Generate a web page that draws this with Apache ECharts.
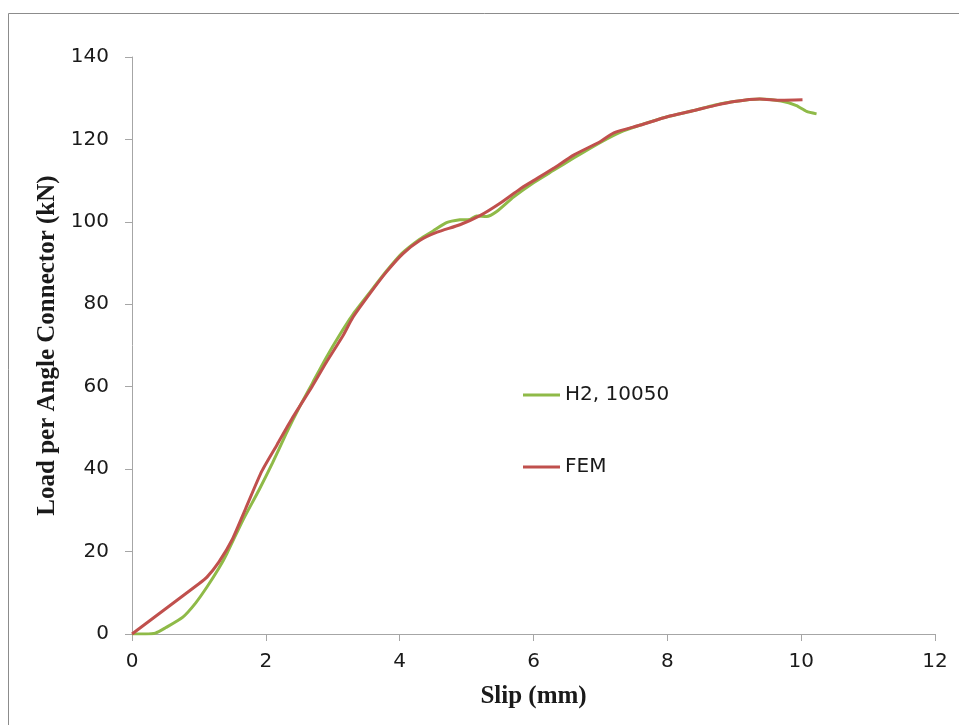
<!DOCTYPE html>
<html>
<head>
<meta charset="utf-8">
<script src="https://cdn.jsdelivr.net/npm/echarts@6/dist/echarts.min.js"></script>
<style>
html,body{margin:0;padding:0;background:#fff;}
#chart{width:959px;height:725px;}
</style>
</head>
<body>
<div id="chart"></div>
<script>
// Data
const h2Slip = [0, 0.2, 0.35, 0.5, 0.76, 0.95, 1.12, 1.3, 1.42, 1.66, 1.9, 2.1, 2.3, 2.5, 2.7, 2.9, 3.1, 3.3, 3.56, 3.8, 4.03, 4.3, 4.5, 4.7, 4.9, 5.05, 5.15, 5.3, 5.45, 5.7, 6.0, 6.3, 6.6, 7.0, 7.3, 7.6, 8.0, 8.4, 8.7, 9.0, 9.38, 9.7, 9.93, 10.08, 10.23];
const h2Load = [0, 0, 0.2, 1.5, 4.1, 7.5, 11.4, 16, 19.6, 27.7, 35, 41.5, 48.5, 55, 61, 67, 72.5, 77.5, 83, 88, 92.3, 95.8, 97.8, 99.8, 100.5, 100.6, 101.4, 101.3, 102.5, 106, 109.5, 112.5, 115.5, 119.3, 121.8, 123.5, 125.5, 127, 128.3, 129.2, 129.8, 129.3, 128.2, 126.8, 126.2];
const femSlip = [0, 1.0, 1.12, 1.3, 1.5, 1.7, 1.94, 2.17, 2.4, 2.69, 2.9, 3.15, 3.3, 3.56, 3.8, 4.05, 4.3, 4.56, 4.9, 5.2, 5.5, 5.8, 6.0, 6.3, 6.6, 7.0, 7.2, 7.6, 8.0, 8.4, 8.7, 9.0, 9.38, 9.7, 10.02];
const femLoad = [0, 12.2, 13.8, 17.5, 23, 30.5, 39.5, 46, 52.5, 60, 65.8, 72.3, 76.8, 82.7, 87.8, 92.3, 95.5, 97.5, 99.3, 101.5, 104.5, 108, 110, 113, 116.2, 119.5, 121.6, 123.5, 125.5, 127, 128.2, 129.2, 129.8, 129.5, 129.6];
const seriesNames = ['H2, 10050', 'FEM'];
const xTitle = 'Slip (mm)';
const yTitle = 'Load per Angle Connector (kN)';

const zip = (a, b) => a.map((v, i) => [v, b[i]]);

const chart = echarts.init(document.getElementById('chart'), null, {renderer: 'canvas'});
const axisGrey = '#a6a6a6';
chart.setOption({
  backgroundColor: '#fff',
  animation: false,
  graphic: [{
    type: 'rect',
    shape: {x: 8.5, y: 13.5, width: 1200, height: 1200},
    style: {fill: 'none', stroke: '#8c8c8c', lineWidth: 1},
    silent: true
  }],
  grid: {left: 132, right: 24, top: 57, bottom: 91, containLabel: false},
  legend: {
    orient: 'vertical',
    left: 518,
    top: 380,
    itemGap: 52,
    itemWidth: 37,
    itemHeight: 3,
    icon: 'rect',
    textStyle: {fontFamily: 'DejaVu Sans', fontSize: 20, color: '#1a1a1a', padding: [0, 0, 0, 0]},
    data: seriesNames
  },
  xAxis: {
    type: 'value',
    min: 0, max: 12, interval: 2,
    name: xTitle,
    nameLocation: 'middle',
    nameGap: 50,
    nameTextStyle: {fontFamily: 'Liberation Serif', fontWeight: 'bold', fontSize: 25, color: '#1a1a1a'},
    axisLine: {show: true, lineStyle: {color: axisGrey, width: 1}},
    axisTick: {show: true, length: 7, lineStyle: {color: axisGrey}},
    axisLabel: {fontFamily: 'DejaVu Sans', fontSize: 20, color: '#1a1a1a', margin: 18},
    splitLine: {show: false}
  },
  yAxis: {
    type: 'value',
    min: 0, max: 140, interval: 20,
    name: yTitle,
    nameLocation: 'middle',
    nameGap: 70,
    nameRotate: 90,
    nameTextStyle: {fontFamily: 'Liberation Serif', fontWeight: 'bold', fontSize: 25, color: '#1a1a1a'},
    axisLine: {show: true, lineStyle: {color: axisGrey, width: 1}},
    axisTick: {show: true, length: 7, lineStyle: {color: axisGrey}},
    axisLabel: {fontFamily: 'DejaVu Sans', fontSize: 20, color: '#1a1a1a', margin: 23},
    splitLine: {show: false}
  },
  series: [
    {
      name: seriesNames[0],
      type: 'line',
      data: zip(h2Slip, h2Load),
      showSymbol: false,
      smooth: 0.2,
      lineStyle: {color: '#8fba48', width: 3},
      itemStyle: {color: '#8fba48'},
      z: 2
    },
    {
      name: seriesNames[1],
      type: 'line',
      data: zip(femSlip, femLoad),
      showSymbol: false,
      smooth: 0.2,
      lineStyle: {color: '#c0504d', width: 3},
      itemStyle: {color: '#c0504d'},
      z: 3
    }
  ]
});
</script>
</body>
</html>
